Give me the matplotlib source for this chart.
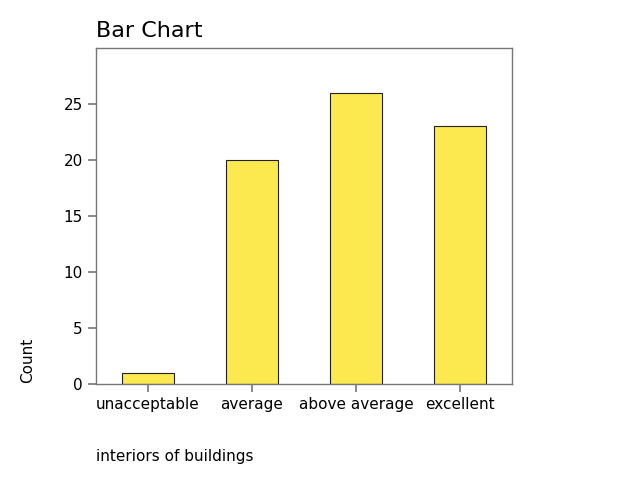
import matplotlib
matplotlib.use("Agg")
import matplotlib.pyplot as plt

# data
categories = ["unacceptable", "average", "above average", "excellent"]
counts = [1, 20, 26, 23]

fig = plt.figure(figsize=(6.4, 4.8), dpi=100)
ax = fig.add_axes([0.15, 0.2, 0.65, 0.7])

ax.bar(range(len(categories)), counts, width=0.5, color="#fce84f",
       edgecolor="#222222", linewidth=0.8)

ax.set_xlim(-0.5, len(categories) - 0.5)
ax.set_ylim(0, 30)
ax.set_yticks([0, 5, 10, 15, 20, 25])
ax.set_xticks(range(len(categories)))
ax.set_xticklabels(categories)
ax.tick_params(labelsize=11, color="#777777", width=1.2, length=6)

for s in ax.spines.values():
    s.set_color("#777777")
    s.set_linewidth(1.0)

ax.set_title("Bar Chart", loc="left", fontsize=16, pad=8)

# axis labels placed like the original export
fig.text(0.043, 0.25, "Count", rotation=90, ha="center", va="center", fontsize=11)
fig.text(0.15, 0.05, "interiors of buildings", ha="left", va="center", fontsize=11)

fig.savefig("out.png", dpi=100)
